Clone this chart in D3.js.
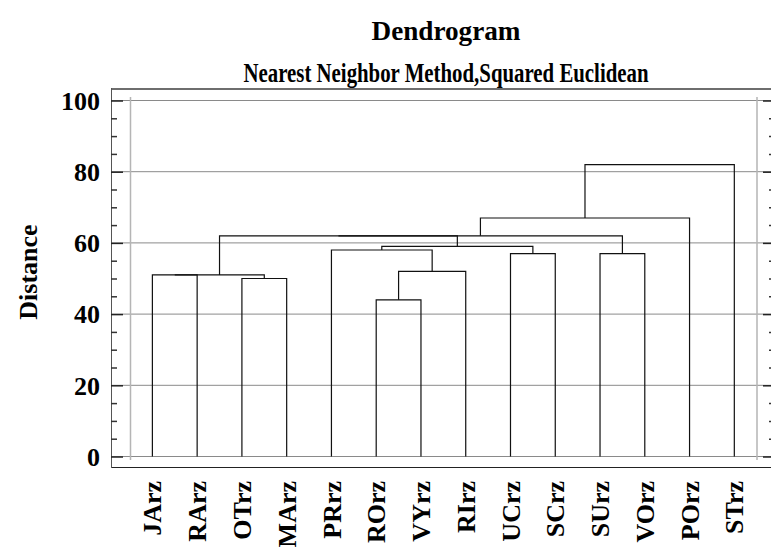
<!DOCTYPE html>
<html>
<head>
<meta charset="utf-8">
<script src="https://cdn.jsdelivr.net/npm/d3@7"></script>
<style>
  body { margin: 0; background: #fff; }
  text { font-family: "Liberation Serif", "Times New Roman", serif; font-weight: bold; fill: #000; }
</style>
</head>
<body>
<svg width="771" height="548"></svg>
<script>
// Leaves in the order they are drawn along the x axis
const leaves = ["JArz", "RArz", "OTrz", "MArz", "PRrz", "ROrz", "VYrz",
    "RIrz", "UCrz", "SCrz", "SUrz", "VOrz", "POrz", "STrz"];

// Merge steps: ids 0..13 are leaves, each merge creates id 14, 15, ...
const mergeLeft   = [0, 2, 14, 5, 17, 4, 8, 19, 16, 10, 22, 24, 25];
const mergeRight  = [1, 3, 15, 6, 7, 18, 9, 20, 21, 11, 23, 12, 13];
const mergeHeight = [51, 50, 51, 44, 52, 58, 57, 59, 62, 57, 62, 67, 82];

const yTicks = [0, 20, 40, 60, 80, 100];
const yMinor = [5, 10, 15, 25, 30, 35, 45, 50, 55, 65, 70, 75, 85, 90, 95];

const svg = d3.select("svg");

// Scales
const x = d3.scalePoint().domain(leaves).range([130, 756.7]).padding(0.5);
const y = d3.scaleLinear().domain([0, 100]).range([456, 100]);

// Titles (the original font is a tall, narrow bold serif)
svg.append("text").attr("x", 446).attr("y", 40)
    .attr("text-anchor", "middle").style("font-size", "27px")
    .attr("textLength", 149).attr("lengthAdjust", "spacingAndGlyphs")
    .text("Dendrogram");
svg.append("text").attr("x", 446).attr("y", 82)
    .attr("text-anchor", "middle").style("font-size", "27px")
    .attr("textLength", 405).attr("lengthAdjust", "spacingAndGlyphs")
    .text("Nearest Neighbor Method,Squared Euclidean");

// Gridlines
svg.append("g").selectAll("line").data(yTicks).join("line")
    .attr("x1", 111).attr("x2", 771)
    .attr("y1", d => y(d) + 0.5).attr("y2", d => y(d) + 0.5)
    .style("stroke", "#8a8a8a");

// Inner vertical lines
[130, 756.5].forEach(xx => {
    svg.append("line").attr("x1", xx + 0.5).attr("x2", xx + 0.5)
        .attr("y1", 97).attr("y2", 460)
        .style("stroke", "#b5b5b5").style("stroke-width", 1.5);
});

// Frame
svg.append("line").attr("x1", 111).attr("x2", 771).attr("y1", 89).attr("y2", 89)
    .style("stroke", "#6e6e6e").style("stroke-width", 2);
svg.append("line").attr("x1", 111).attr("x2", 771).attr("y1", 467.5).attr("y2", 467.5)
    .style("stroke", "#222");
svg.append("line").attr("x1", 111.5).attr("x2", 111.5).attr("y1", 88).attr("y2", 468)
    .style("stroke", "#555");

// Left axis with labels
const leftAxis = svg.append("g").attr("transform", "translate(123,0.5)")
    .call(d3.axisLeft(y).tickValues(yTicks).tickSize(12).tickPadding(11));
leftAxis.select(".domain").remove();
leftAxis.selectAll("line").style("stroke", "#222").style("stroke-width", 1.5);
leftAxis.selectAll("text").style("font-size", "26px")
    .style("font-family", "'Liberation Serif', serif").style("font-weight", "bold")
    .attr("dy", "0.34em");

const leftMinor = svg.append("g").attr("transform", "translate(117,0.5)")
    .call(d3.axisLeft(y).tickValues(yMinor).tickSize(6).tickFormat(""));
leftMinor.select(".domain").remove();
leftMinor.selectAll("line").style("stroke", "#333").style("stroke-width", 1.5);

// Right axis ticks
const rightAxis = svg.append("g").attr("transform", "translate(763,0.5)")
    .call(d3.axisRight(y).tickValues(yTicks).tickSize(8).tickFormat(""));
rightAxis.select(".domain").remove();
rightAxis.selectAll("line").style("stroke", "#222").style("stroke-width", 1.5);

const rightMinor = svg.append("g").attr("transform", "translate(769,0.5)")
    .call(d3.axisRight(y).tickValues(yMinor).tickSize(2).tickFormat(""));
rightMinor.select(".domain").remove();
rightMinor.selectAll("line").style("stroke", "#333").style("stroke-width", 1.5);

// Y axis title
svg.append("text")
    .attr("transform", "translate(37,272) rotate(-90)")
    .attr("text-anchor", "middle").style("font-size", "26px").text("Distance");

// Build node positions from the merges
const nodeX = leaves.map(d => x(d));
const nodeH = leaves.map(() => 0);
const links = [];
mergeLeft.forEach((l, i) => {
    const r = mergeRight[i], h = mergeHeight[i];
    links.push({ xl: nodeX[l], hl: nodeH[l], xr: nodeX[r], hr: nodeH[r], h: h });
    nodeX.push((nodeX[l] + nodeX[r]) / 2);
    nodeH.push(h);
});

svg.append("g").selectAll("path").data(links).join("path")
    .attr("d", d => `M${d.xl},${y(d.hl) + 0.5}V${y(d.h) + 0.5}H${d.xr}V${y(d.hr) + 0.5}`)
    .style("fill", "none").style("stroke", "#111").style("stroke-width", 1.2);

// Leaf labels
svg.append("g").selectAll("text").data(leaves).join("text")
    .attr("transform", d => `translate(${x(d)},481) rotate(-90)`)
    .attr("text-anchor", "end").attr("dy", "0.35em")
    .style("font-size", "26px").text(d => d);
</script>
</body>
</html>
